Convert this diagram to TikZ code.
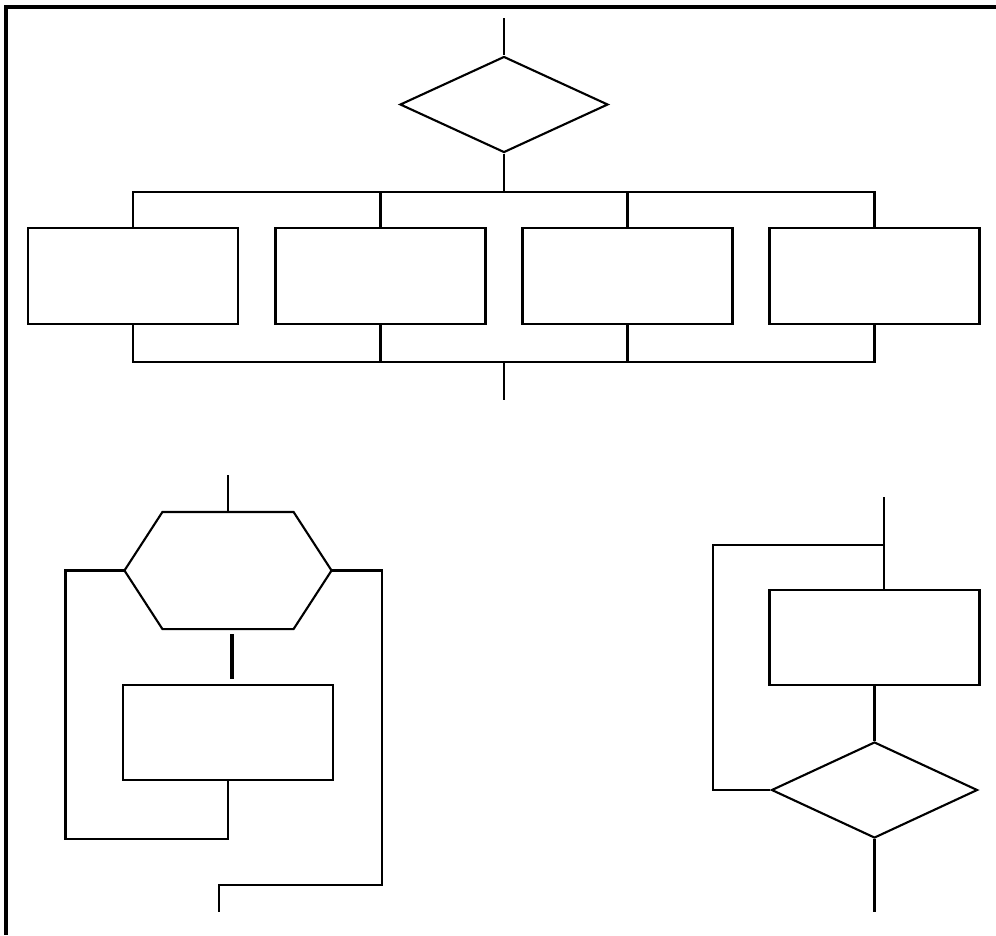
\documentclass[tikz,border=0pt]{standalone}
\usepackage{tikz}
\usetikzlibrary{positioning,shapes.geometric,calc}

\begin{document}
\begin{tikzpicture}[line width=0.6pt]
  \tikzset{block/.style={draw,minimum width=2.1cm,minimum height=0.96cm,inner sep=0pt},
    decide/.style={draw,diamond,minimum width=2.08cm,minimum height=0.96cm,inner sep=0pt},
    frame/.style={line width=0.9pt}}
  \useasboundingbox (0,0) rectangle (9.96,-9.35);
  \draw[frame] (9.96,-0.07) -- (0.06,-0.07) -- (0.06,-9.35);
  % selection with four branches
  \node[decide] (choice) at (5.04,-1.045) {};
  \node[block] (caseA) at (1.33,-2.76) {};
  \node[block] (caseB) at (3.805,-2.76) {};
  \node[block] (caseC) at (6.275,-2.76) {};
  \node[block] (caseD) at (8.745,-2.76) {};
  \coordinate (choiceIn) at (5.04,-0.18);
  \coordinate (choiceOut) at (5.04,-4.00);
  \draw (choiceIn) -- (choice.north);
  \draw (choice.south) -- ++(0,-0.38) coordinate (busTop);
  \draw (caseA.north) |- (busTop) -| (caseD.north);
  \draw (caseB.north) -- (caseB.north |- busTop);
  \draw (caseC.north) -- (caseC.north |- busTop);
  \draw (caseA.south) -- ++(0,-0.37) coordinate (busLow) -| (caseD.south);
  \draw (caseB.south) -- (caseB.south |- busLow);
  \draw (caseC.south) -- (caseC.south |- busLow);
  \draw (choiceOut |- busLow) -- (choiceOut);
  % loop with test at the top
  \node[minimum width=2.05cm,minimum height=1.15cm,inner sep=0pt] (loop) at (2.28,-5.705) {};
  \draw ($(loop.north west)+(0.38,0)$) -- ($(loop.north east)+(-0.38,0)$) -- (loop.east)
    -- ($(loop.south east)+(-0.38,0)$) -- ($(loop.south west)+(0.38,0)$) -- (loop.west) -- cycle;
  \node[block,minimum height=0.95cm] (body) at (2.28,-7.325) {};
  \coordinate (loopIn) at (2.28,-4.75);
  \coordinate (loopOut) at (2.19,-9.12);
  \draw (loopIn) -- (loop.north);
  \draw[line width=1.2pt] ($(loop.south)+(0.04,-0.05)$) -- ($(body.north)+(0.04,0.05)$);
  \draw (body.south) -- ++(0,-0.58) -| ([xshift=-0.59cm]loop.west) -- (loop.west);
  \draw (loop.east) -- ++(0.5,0) |- ($(loopOut)+(0,0.27)$) -- (loopOut);
  % loop with test at the bottom
  \node[block,minimum height=0.95cm] (work) at (8.745,-6.375) {};
  \node[decide,minimum width=2.06cm] (again) at (8.745,-7.90) {};
  \coordinate (repIn) at (8.84,-4.97);
  \coordinate (repOut) at (8.745,-9.12);
  \draw (repIn) -- (repIn |- work.north);
  \draw (repIn |- 0,-5.45) -- (7.13,-5.45) |- (again.west);
  \draw (work.south) -- (again.north);
  \draw (again.south) -- (repOut);
\end{tikzpicture}
\end{document}
